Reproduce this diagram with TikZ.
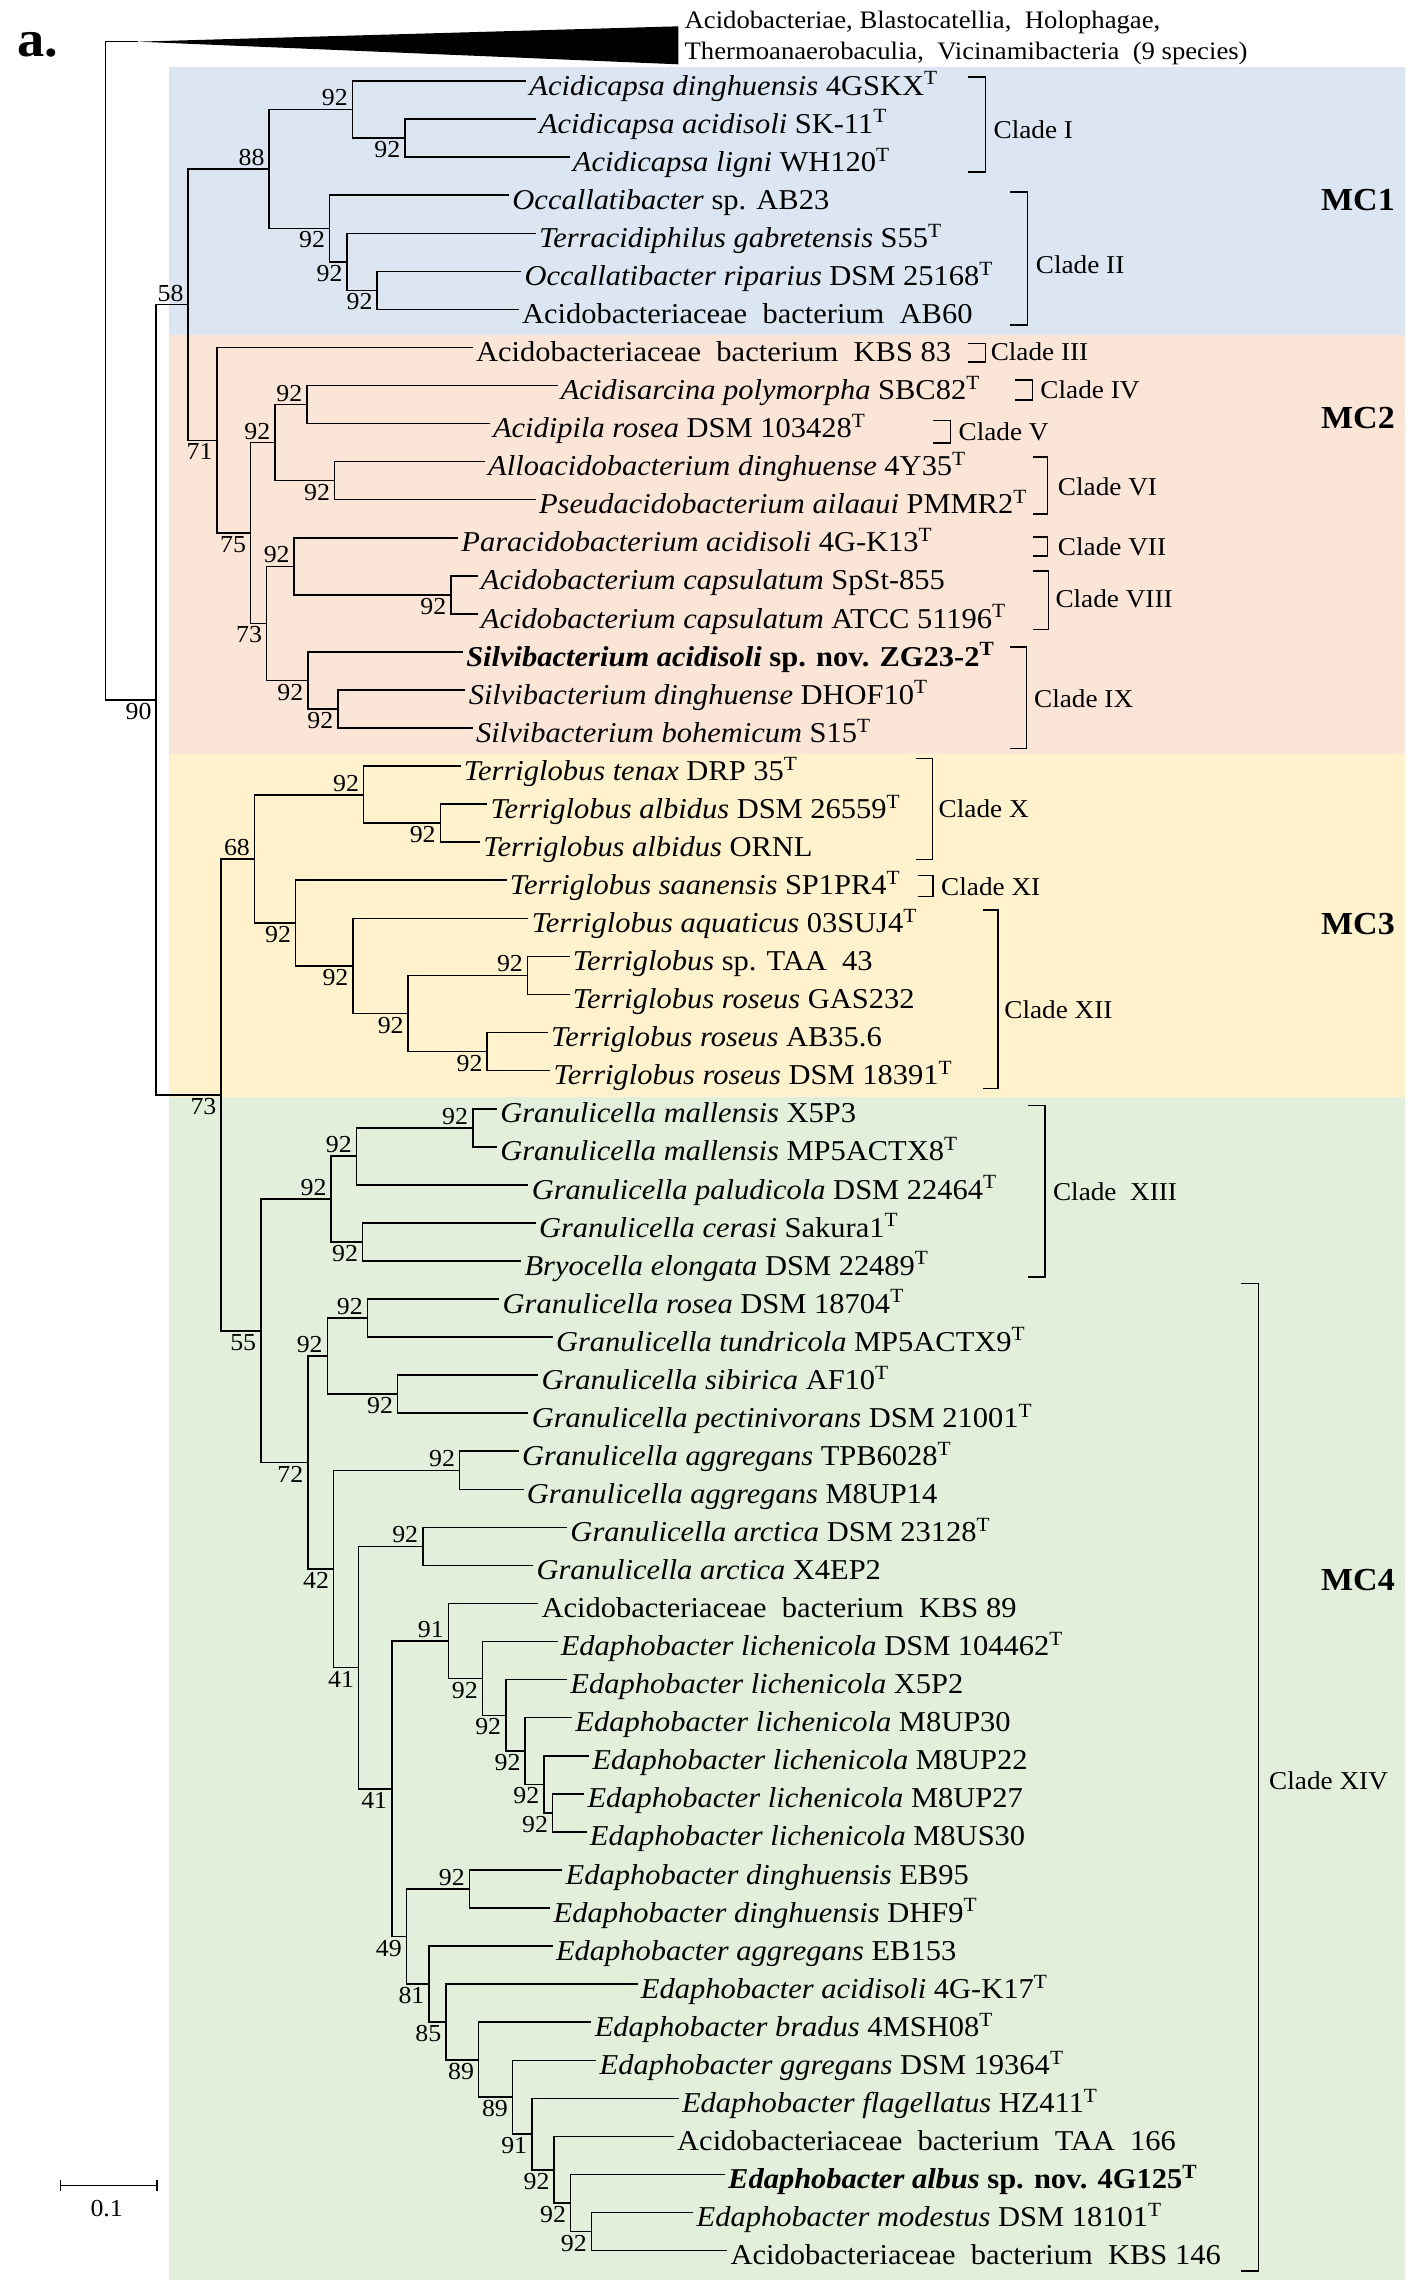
\documentclass[tikz,border=0pt]{standalone}
\usepackage{fontspec}
\setmainfont{Liberation Serif}[FakeStretch=1.06]
\usepackage{xcolor}
\usepackage{tikz}
\usetikzlibrary{arrows.meta}

\definecolor{mcblue}{HTML}{DCE6F2}
\definecolor{mcred}{HTML}{FBE5D6}
\definecolor{mcyellow}{HTML}{FFF2CC}
\definecolor{mcgreen}{HTML}{E2EFDA}
\newcommand{\sT}{\textsuperscript{T}}

\begin{document}
\begin{tikzpicture}[x=0.02cm, y=-0.02cm, line width=0.6pt,
    leaf/.style={anchor=west, inner sep=1pt, text height=12pt, text depth=1pt, font=\fontsize{11.2}{13}\selectfont},
    bsup/.style={anchor=south east, inner xsep=1.5pt, inner ysep=1pt, font=\fontsize{9.5}{11}\selectfont},
    bsdn/.style={anchor=north east, inner xsep=1.5pt, inner ysep=1pt, font=\fontsize{9.5}{11}\selectfont},
    clade/.style={anchor=west, inner sep=1pt, font=\fontsize{10}{12}\selectfont},
    mc/.style={font=\bfseries\fontsize{12.5}{14}\selectfont}]

    \useasboundingbox (0,0) rectangle (971,1568);

    % coloured groups
    \fill[mcblue] (115.5,45.6) rectangle (961.5,229.2);
    \fill[mcred] (115.5,229.2) rectangle (961.5,515.5);
    \fill[mcyellow] (115.5,515.5) rectangle (961.5,750.5);
    \fill[mcgreen] (115.5,750.5) rectangle (961.5,1560.1);

    \node[font=\bfseries\fontsize{20}{22}\selectfont] (panel) at (25.7,31) {a.};

    % outgroup
    \coordinate (og) at (94.5,28.5);
    \fill (og) -- ++(369.5,-10.5) -- ++(0,26) -- cycle;
    \node[anchor=west, align=left, inner sep=0.5pt, font=\fontsize{9.8}{12.2}\selectfont] (ogl) at (467,26)
        {Acidobacteriae, Blastocatellia,~ Holophagae,\\Thermoanaerobaculia,~ Vicinamibacteria~ (9 species)};

    % leaves
    \node[leaf] (l1) at (359.9,55.4) {\textit{Acidicapsa dinghuensis} 4GSKX\sT};
    \node[leaf] (l2) at (366.5,81.4) {\textit{Acidicapsa acidisoli} SK-11\sT};
    \node[leaf] (l3) at (389.7,107.5) {\textit{Acidicapsa ligni} WH120\sT};
    \node[leaf] (l4) at (348.3,133.5) {\textit{Occallatibacter} sp. AB23};
    \node[leaf] (l5) at (366.5,159.6) {\textit{Terracidiphilus gabretensis} S55\sT};
    \node[leaf] (l6) at (356.6,185.6) {\textit{Occallatibacter riparius} DSM 25168\sT};
    \node[leaf] (l7) at (354.9,211.6) {Acidobacteriaceae~ bacterium~ AB60};
    \node[leaf] (l8) at (323.4,237.7) {Acidobacteriaceae~ bacterium~ KBS 83};
    \node[leaf] (l9) at (381.4,263.7) {\textit{Acidisarcina polymorpha} SBC82\sT};
    \node[leaf] (l10) at (335.0,289.8) {\textit{Acidipila rosea} DSM 103428\sT};
    \node[leaf] (l11) at (331.7,315.8) {\textit{Alloacidobacterium dinghuense} 4Y35\sT};
    \node[leaf] (l12) at (366.5,341.8) {\textit{Pseudacidobacterium ailaaui} PMMR2\sT};
    \node[leaf] (l13) at (313.4,367.9) {\textit{Paracidobacterium acidisoli} 4G-K13\sT};
    \node[leaf] (l14) at (326.7,393.9) {\textit{Acidobacterium capsulatum} SpSt-855};
    \node[leaf] (l15) at (326.7,420.0) {\textit{Acidobacterium capsulatum} ATCC 51196\sT};
    \node[leaf] (l16) at (316.7,446.0) {\textbf{\textit{Silvibacterium acidisoli} sp. nov. ZG23-2\sT}};
    \node[leaf] (l17) at (318.4,472.0) {\textit{Silvibacterium dinghuense} DHOF10\sT};
    \node[leaf] (l18) at (323.4,498.1) {\textit{Silvibacterium bohemicum} S15\sT};
    \node[leaf] (l19) at (315.1,524.1) {\textit{Terriglobus tenax} DRP 35\sT};
    \node[leaf] (l20) at (333.3,550.2) {\textit{Terriglobus albidus} DSM 26559\sT};
    \node[leaf] (l21) at (328.4,576.2) {\textit{Terriglobus albidus} ORNL};
    \node[leaf] (l22) at (346.6,602.2) {\textit{Terriglobus saanensis} SP1PR4\sT};
    \node[leaf] (l23) at (361.5,628.3) {\textit{Terriglobus aquaticus} 03SUJ4\sT};
    \node[leaf] (l24) at (389.7,654.3) {\textit{Terriglobus} sp. TAA~ 43};
    \node[leaf] (l25) at (389.7,680.4) {\textit{Terriglobus roseus} GAS232};
    \node[leaf] (l26) at (374.8,706.4) {\textit{Terriglobus roseus} AB35.6};
    \node[leaf] (l27) at (376.5,732.4) {\textit{Terriglobus roseus} DSM 18391\sT};
    \node[leaf] (l28) at (340.0,758.5) {\textit{Granulicella mallensis} X5P3};
    \node[leaf] (l29) at (340.0,784.5) {\textit{Granulicella mallensis} MP5ACTX8\sT};
    \node[leaf] (l30) at (361.5,810.6) {\textit{Granulicella paludicola} DSM 22464\sT};
    \node[leaf] (l31) at (366.5,836.6) {\textit{Granulicella cerasi} Sakura1\sT};
    \node[leaf] (l32) at (356.6,862.6) {\textit{Bryocella elongata} DSM 22489\sT};
    \node[leaf] (l33) at (341.6,888.7) {\textit{Granulicella rosea} DSM 18704\sT};
    \node[leaf] (l34) at (378.1,914.7) {\textit{Granulicella tundricola} MP5ACTX9\sT};
    \node[leaf] (l35) at (368.2,940.8) {\textit{Granulicella sibirica} AF10\sT};
    \node[leaf] (l36) at (361.5,966.8) {\textit{Granulicella pectinivorans} DSM 21001\sT};
    \node[leaf] (l37) at (354.9,992.8) {\textit{Granulicella aggregans} TPB6028\sT};
    \node[leaf] (l38) at (358.2,1018.9) {\textit{Granulicella aggregans} M8UP14};
    \node[leaf] (l39) at (388.0,1044.9) {\textit{Granulicella arctica} DSM 23128\sT};
    \node[leaf] (l40) at (364.8,1071.0) {\textit{Granulicella arctica} X4EP2};
    \node[leaf] (l41) at (368.2,1097.0) {Acidobacteriaceae~ bacterium~ KBS 89};
    \node[leaf] (l42) at (381.4,1123.0) {\textit{Edaphobacter lichenicola} DSM 104462\sT};
    \node[leaf] (l43) at (388.0,1149.1) {\textit{Edaphobacter lichenicola} X5P2};
    \node[leaf] (l44) at (391.4,1175.1) {\textit{Edaphobacter lichenicola} M8UP30};
    \node[leaf] (l45) at (403.0,1201.2) {\textit{Edaphobacter lichenicola} M8UP22};
    \node[leaf] (l46) at (399.7,1227.2) {\textit{Edaphobacter lichenicola} M8UP27};
    \node[leaf] (l47) at (401.3,1253.2) {\textit{Edaphobacter lichenicola} M8US30};
    \node[leaf] (l48) at (384.7,1279.3) {\textit{Edaphobacter dinghuensis} EB95};
    \node[leaf] (l49) at (376.5,1305.3) {\textit{Edaphobacter dinghuensis} DHF9\sT};
    \node[leaf] (l50) at (378.1,1331.4) {\textit{Edaphobacter aggregans} EB153};
    \node[leaf] (l51) at (436.2,1357.4) {\textit{Edaphobacter acidisoli} 4G-K17\sT};
    \node[leaf] (l52) at (404.6,1383.4) {\textit{Edaphobacter bradus} 4MSH08\sT};
    \node[leaf] (l53) at (408.0,1409.5) {\textit{Edaphobacter ggregans} DSM 19364\sT};
    \node[leaf] (l54) at (464.3,1435.5) {\textit{Edaphobacter flagellatus} HZ411\sT};
    \node[leaf] (l55) at (461.0,1461.6) {Acidobacteriaceae~ bacterium~ TAA~ 166};
    \node[leaf] (l56) at (495.9,1487.6) {\textbf{\textit{Edaphobacter albus} sp. nov. 4G125\sT}};
    \node[leaf] (l57) at (474.3,1513.6) {\textit{Edaphobacter modestus} DSM 18101\sT};
    \node[leaf] (l58) at (497.5,1539.7) {Acidobacteriaceae~ bacterium~ KBS 146};

    % inner nodes
    \coordinate (a1) at (277.0,94.4);
    \coordinate (a2) at (241.1,74.9);
    \coordinate (a3) at (258.0,198.6);
    \coordinate (a4) at (237.5,179.1);
    \coordinate (a5) at (225.5,156.3);
    \coordinate (a6) at (184.1,115.6);
    \coordinate (b1) at (210.0,276.8);
    \coordinate (b2) at (228.9,328.8);
    \coordinate (b3) at (188.1,302.8);
    \coordinate (b4) at (308.5,407.0);
    \coordinate (b5) at (201.3,387.4);
    \coordinate (b6) at (231.2,485.1);
    \coordinate (b7) at (210.6,465.6);
    \coordinate (b8) at (182.4,426.5);
    \coordinate (b9) at (171.5,364.6);
    \coordinate (b10) at (148.6,301.2);
    \coordinate (b11) at (128.7,208.4);
    \coordinate (c1) at (301.2,563.2);
    \coordinate (c2) at (248.8,543.7);
    \coordinate (c3) at (360.9,667.4);
    \coordinate (c4) at (333.3,719.4);
    \coordinate (c5) at (279.3,693.4);
    \coordinate (c6) at (241.5,660.9);
    \coordinate (c7) at (202.3,631.6);
    \coordinate (c8) at (174.1,587.6);
    \coordinate (d1) at (323.4,771.5);
    \coordinate (d2) at (243.8,791.0);
    \coordinate (d3) at (248.1,849.6);
    \coordinate (d4) at (226.5,820.3);
    \coordinate (d5) at (251.4,901.7);
    \coordinate (d6) at (272.0,953.8);
    \coordinate (d7) at (223.9,927.8);
    \coordinate (d8) at (314.4,1005.9);
    \coordinate (d9) at (289.2,1058.0);
    \coordinate (e1) at (378.1,1240.2);
    \coordinate (e2) at (372.1,1220.7);
    \coordinate (e3) at (359.2,1197.9);
    \coordinate (e4) at (346.0,1173.5);
    \coordinate (e5) at (330.0,1148.3);
    \coordinate (e6) at (306.8,1122.6);
    \coordinate (e7) at (321.1,1292.3);
    \coordinate (f1) at (404.6,1526.7);
    \coordinate (f2) at (390.4,1507.1);
    \coordinate (f3) at (379.1,1484.4);
    \coordinate (f4) at (363.8,1459.9);
    \coordinate (f5) at (350.6,1434.7);
    \coordinate (f6) at (327.4,1409.1);
    \coordinate (f7) at (305.1,1383.2);
    \coordinate (f8) at (293.5,1357.3);
    \coordinate (f9) at (278.0,1324.8);
    \coordinate (g1) at (268.0,1223.7);
    \coordinate (g2) at (245.4,1140.9);
    \coordinate (g3) at (228.2,1073.4);
    \coordinate (g4) at (210.6,1000.6);
    \coordinate (g5) at (178.4,910.5);
    \coordinate (g6) at (151.2,749.1);
    \coordinate (r1) at (106.8,478.8);
    \coordinate (root) at (72.3,253.7);

    % branches
    \draw (l2.west) -| (a1) |- (l3.west);
    \draw (l1.west) -| (a2) |- (a1);
    \draw (l6.west) -| (a3) |- (l7.west);
    \draw (l5.west) -| (a4) |- (a3);
    \draw (l4.west) -| (a5) |- (a4);
    \draw (a2) -| (a6) |- (a5);
    \draw (l9.west) -| (b1) |- (l10.west);
    \draw (l11.west) -| (b2) |- (l12.west);
    \draw (b1) -| (b3) |- (b2);
    \draw (l14.west) -| (b4) |- (l15.west);
    \draw (l13.west) -| (b5) |- (b4);
    \draw (l17.west) -| (b6) |- (l18.west);
    \draw (l16.west) -| (b7) |- (b6);
    \draw (b5) -| (b8) |- (b7);
    \draw (b3) -| (b9) |- (b8);
    \draw (l8.west) -| (b10) |- (b9);
    \draw (a6) -| (b11) |- (b10);
    \draw (l20.west) -| (c1) |- (l21.west);
    \draw (l19.west) -| (c2) |- (c1);
    \draw (l24.west) -| (c3) |- (l25.west);
    \draw (l26.west) -| (c4) |- (l27.west);
    \draw (c3) -| (c5) |- (c4);
    \draw (l23.west) -| (c6) |- (c5);
    \draw (l22.west) -| (c7) |- (c6);
    \draw (c2) -| (c8) |- (c7);
    \draw (l28.west) -| (d1) |- (l29.west);
    \draw (d1) -| (d2) |- (l30.west);
    \draw (l31.west) -| (d3) |- (l32.west);
    \draw (d2) -| (d4) |- (d3);
    \draw (l33.west) -| (d5) |- (l34.west);
    \draw (l35.west) -| (d6) |- (l36.west);
    \draw (d5) -| (d7) |- (d6);
    \draw (l37.west) -| (d8) |- (l38.west);
    \draw (l39.west) -| (d9) |- (l40.west);
    \draw (l46.west) -| (e1) |- (l47.west);
    \draw (l45.west) -| (e2) |- (e1);
    \draw (l44.west) -| (e3) |- (e2);
    \draw (l43.west) -| (e4) |- (e3);
    \draw (l42.west) -| (e5) |- (e4);
    \draw (l41.west) -| (e6) |- (e5);
    \draw (l48.west) -| (e7) |- (l49.west);
    \draw (l57.west) -| (f1) |- (l58.west);
    \draw (l56.west) -| (f2) |- (f1);
    \draw (l55.west) -| (f3) |- (f2);
    \draw (l54.west) -| (f4) |- (f3);
    \draw (l53.west) -| (f5) |- (f4);
    \draw (l52.west) -| (f6) |- (f5);
    \draw (l51.west) -| (f7) |- (f6);
    \draw (l50.west) -| (f8) |- (f7);
    \draw (e7) -| (f9) |- (f8);
    \draw (e6) -| (g1) |- (f9);
    \draw (d9) -| (g2) |- (g1);
    \draw (d8) -| (g3) |- (g2);
    \draw (d7) -| (g4) |- (g3);
    \draw (d4) -| (g5) |- (g4);
    \draw (c8) -| (g6) |- (g5);
    \draw (b11) -| (r1) |- (g6);
    \draw (og) -| (root) |- (r1);

    % bootstrap values
    \node[bsdn] (a1v) at (a1) {92};
    \node[bsup] (a2v) at (a2) {92};
    \node[bsdn] (a3v) at (a3) {92};
    \node[bsdn] (a4v) at (a4) {92};
    \node[bsdn] (a5v) at (a5) {92};
    \node[bsup] (a6v) at (a6) {88};
    \node[bsup] (b1v) at (b1) {92};
    \node[bsdn] (b2v) at (b2) {92};
    \node[bsup] (b3v) at (b3) {92};
    \node[bsdn] (b4v) at (b4) {92};
    \node[bsup] (b5v) at (b5) {92};
    \node[bsdn] (b6v) at (b6) {92};
    \node[bsdn] (b7v) at (b7) {92};
    \node[bsdn] (b8v) at (b8) {73};
    \node[bsdn] (b9v) at (b9) {75};
    \node[bsdn] (b10v) at (b10) {71};
    \node[bsup] (b11v) at (b11) {58};
    \node[bsdn] (c1v) at (c1) {92};
    \node[bsup] (c2v) at (c2) {92};
    \node[bsup] (c3v) at (c3) {92};
    \node[bsdn] (c4v) at (c4) {92};
    \node[bsdn] (c5v) at (c5) {92};
    \node[bsdn] (c6v) at (c6) {92};
    \node[bsdn] (c7v) at (c7) {92};
    \node[bsup] (c8v) at (c8) {68};
    \node[bsup] (d1v) at (d1) {92};
    \node[bsup] (d2v) at (d2) {92};
    \node[bsdn] (d3v) at (d3) {92};
    \node[bsup] (d4v) at (d4) {92};
    \node[bsup] (d5v) at (d5) {92};
    \node[bsdn] (d6v) at (d6) {92};
    \node[bsup] (d7v) at (d7) {92};
    \node[bsup] (d8v) at (d8) {92};
    \node[bsup] (d9v) at (d9) {92};
    \node[bsdn] (e1v) at (e1) {92};
    \node[bsdn] (e2v) at (e2) {92};
    \node[bsdn] (e3v) at (e3) {92};
    \node[bsdn] (e4v) at (e4) {92};
    \node[bsdn] (e5v) at (e5) {92};
    \node[bsup] (e6v) at (e6) {91};
    \node[bsup] (e7v) at (e7) {92};
    \node[bsdn] (f1v) at (f1) {92};
    \node[bsdn] (f2v) at (f2) {92};
    \node[bsdn] (f3v) at (f3) {92};
    \node[bsdn] (f4v) at (f4) {91};
    \node[bsdn] (f5v) at (f5) {89};
    \node[bsdn] (f6v) at (f6) {89};
    \node[bsdn] (f7v) at (f7) {85};
    \node[bsdn] (f8v) at (f8) {81};
    \node[bsdn] (f9v) at (f9) {49};
    \node[bsdn] (g1v) at (g1) {41};
    \node[bsdn] (g2v) at (g2) {41};
    \node[bsdn] (g3v) at (g3) {42};
    \node[bsdn] (g4v) at (g4) {72};
    \node[bsdn] (g5v) at (g5) {55};
    \node[bsdn] (g6v) at (g6) {73};
    \node[bsdn] (r1v) at (r1) {90};

    % clades
    \draw (662.2,52.5) -| (674.1,117.5) -- ++(-11.9,0);
    \node[clade] (cI) at (677.5,89) {Clade I};
    \draw (691.1,131.2) -| (703.0,222.4) -- ++(-11.9,0);
    \node[clade] (cII) at (706.4,181.3) {Clade II};
    \draw (662.2,235.0) -| (674.1,247.5) -- ++(-11.9,0);
    \node[clade] (cIII) at (675.5,240.7) {Clade III};
    \draw (694.5,260.0) -| (706.4,273.7) -- ++(-11.9,0);
    \node[clade] (cIV) at (709.5,266.8) {Clade IV};
    \draw (638.4,287.8) -| (650.3,302.9) -- ++(-11.9,0);
    \node[clade] (cV) at (653.5,295.4) {Clade V};
    \draw (706.4,312.5) -| (716.6,351.7) -- ++(-10.2,0);
    \node[clade] (cVI) at (721.5,333.0) {Clade VI};
    \draw (706.4,367.2) -| (716.6,380.4) -- ++(-10.2,0);
    \node[clade] (cVII) at (721.5,374.0) {Clade VII};
    \draw (706.4,390.5) -| (717.3,430.6) -- ++(-10.9,0);
    \node[clade] (cVIII) at (719.8,409.4) {Clade VIII};
    \draw (691.1,442.5) -| (702.3,512.1) -- ++(-11.2,0);
    \node[clade] (cIX) at (705.2,477.8) {Clade IX};
    \draw (626.5,518.9) -| (637.8,588.1) -- ++(-11.3,0);
    \node[clade] (cX) at (639.9,553.2) {Clade X};
    \draw (628.2,598.8) -| (638.4,613.2) -- ++(-10.2,0);
    \node[clade] (cXI) at (641.6,606.8) {Clade XI};
    \draw (672.4,622.7) -| (682.6,744.8) -- ++(-10.2,0);
    \node[clade] (cXII) at (684.8,690.7) {Clade XII};
    \draw (703.0,756.2) -| (714.9,873.6) -- ++(-11.9,0);
    \node[clade] (cXIII) at (718.1,815.5) {Clade~ XIII};
    \draw (849.2,878.2) -| (861.1,1553.7) -- ++(-11.9,0);
    \node[clade] (cXIV) at (866.0,1218.0) {Clade XIV};

    \node[mc] (mc1) at (929,136.9) {MC1};
    \node[mc] (mc2) at (929,286.2) {MC2};
    \node[mc] (mc3) at (929,631.9) {MC3};
    \node[mc] (mc4) at (929,1081.2) {MC4};

    % scale bar
    \coordinate (sbl) at (40.8,1495.1);
    \coordinate (sbr) at (107.8,1495.1);
    \draw[{Bar[width=4.5pt]}-{Bar[width=4.5pt]}] (sbl) -- (sbr);
    \node[font=\fontsize{9.5}{11}\selectfont] (sbv) at (73,1511) {0.1};

\end{tikzpicture}
\end{document}
